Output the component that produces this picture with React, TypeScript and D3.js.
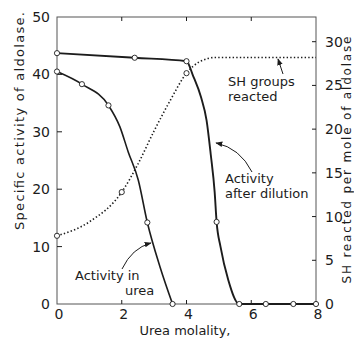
import * as d3 from "d3";
import React, { useEffect, useRef } from "react";

// urea molality ticks and the two y scales
const xTicks = [0, 2, 4, 6, 8];
const leftTicks = [0, 10, 20, 30, 40, 50];
const rightTicks = [0, 5, 10, 15, 20, 25, 30];

// activity after dilution (left axis)
const dilutionCurve: [number, number][] = [
  [0, 43.7], [2.4, 42.9], [4, 42.3], [4.2, 39.8], [4.45, 36], [4.62, 32],
  [4.75, 26], [4.87, 19.5], [4.93, 14.3], [5.05, 10], [5.29, 4.2], [5.63, 0],
  [6.45, 0], [7.3, 0], [8, 0],
];
const dilutionPoints: [number, number][] = [
  [0, 43.7], [2.4, 42.9], [4, 42.3], [4.93, 14.3], [5.63, 0], [6.45, 0], [7.3, 0], [8, 0],
];

// activity in urea (left axis)
const ureaCurve: [number, number][] = [
  [0, 40.5], [0.77, 38.3], [1.59, 34.6], [1.94, 30.9], [2.2, 26.5],
  [2.51, 21.6], [2.79, 14.2], [3.18, 6.5], [3.57, 0],
];
const ureaPoints: [number, number][] = [
  [0, 40.5], [0.77, 38.3], [1.59, 34.6], [2.79, 14.2], [3.57, 0],
];

// SH groups reacted per mole (right axis)
const shCurve: [number, number][] = [
  [0, 7.8], [1, 9.4], [2, 12.8], [2.5, 16], [3, 19.8], [3.5, 23.3],
  [4, 26.4], [4.4, 27.7], [4.9, 28.2], [8, 28.2],
];
const shPoints: [number, number][] = [[0, 7.8], [2, 12.8], [4, 26.4]];

const App = () => {
  const svgRef = useRef<SVGSVGElement>(null);

  useEffect(() => {
    const svg = d3.select(svgRef.current);
    svg.selectAll("*").remove();

    const left = 57, right = 316, top = 17, bottom = 304;
    const ink = "#1c1c1c";
    const font = "'DejaVu Sans', sans-serif";

    const x = d3.scaleLinear().domain([0, 8]).range([left, right]);
    const yL = d3.scaleLinear().domain([0, 50]).range([bottom, top]);
    const yR = d3.scaleLinear().domain([0, 30]).range([bottom, 41.7]);

    svg.append("defs")
      .append("marker")
      .attr("id", "head")
      .attr("viewBox", "0 0 10 10")
      .attr("refX", 9)
      .attr("refY", 5)
      .attr("markerWidth", 7)
      .attr("markerHeight", 7)
      .attr("markerUnits", "userSpaceOnUse")
      .attr("orient", "auto")
      .append("path")
      .attr("d", "M0,1 L10,5 L0,9 Z")
      .attr("fill", ink);

    // frame
    svg.append("rect")
      .attr("x", left)
      .attr("y", top)
      .attr("width", right - left)
      .attr("height", bottom - top)
      .attr("fill", "none")
      .attr("stroke", "#555")
      .attr("stroke-width", 1);

    // ticks
    const g = svg.append("g").attr("stroke", ink).attr("stroke-width", 1);
    leftTicks.filter((t) => t > 0 && t < 50).forEach((t) => {
      g.append("line").attr("x1", left).attr("x2", left + 5).attr("y1", yL(t)).attr("y2", yL(t));
    });
    rightTicks.filter((t) => t > 0).forEach((t) => {
      g.append("line").attr("x1", right - 4).attr("x2", right).attr("y1", yR(t)).attr("y2", yR(t));
    });
    xTicks.filter((t) => t > 0 && t < 8).forEach((t) => {
      g.append("line").attr("x1", x(t)).attr("x2", x(t)).attr("y1", bottom).attr("y2", bottom - 4);
      g.append("line").attr("x1", x(t)).attr("x2", x(t)).attr("y1", top).attr("y2", top + 4);
    });

    const label = (tx: number, ty: number, s: string, anchor = "start", size = 13) =>
      svg.append("text")
        .attr("x", tx)
        .attr("y", ty)
        .attr("text-anchor", anchor)
        .attr("font-family", font)
        .attr("font-size", size)
        .attr("fill", ink)
        .text(s);

    leftTicks.forEach((t) => label(50, yL(t) + 5, String(t), "end", 14));
    rightTicks.forEach((t) => label(325, yR(t) + 5, String(t), "start", 14));
    xTicks.forEach((t) => label(x(t) + 2, 319, String(t), "middle", 14));

    label(185, 335, "Urea molality,", "middle", 13);

    svg.append("text")
      .attr("transform", "translate(24,121) rotate(-90)")
      .attr("text-anchor", "middle")
      .attr("font-family", font)
      .attr("font-size", 13)
      .attr("fill", ink)
      .attr("textLength", 218)
      .attr("lengthAdjust", "spacing")
      .text("Specific activity of aldolase.");

    svg.append("text")
      .attr("transform", "translate(351,160) rotate(-90)")
      .attr("text-anchor", "middle")
      .attr("font-family", font)
      .attr("font-size", 12)
      .attr("fill", ink)
      .attr("textLength", 247)
      .attr("lengthAdjust", "spacing")
      .text("SH reacted per mole of aldolase");

    // curves
    const lineL = d3.line<[number, number]>()
      .x((d) => x(d[0]))
      .y((d) => yL(d[1]))
      .curve(d3.curveMonotoneX);
    const lineR = d3.line<[number, number]>()
      .x((d) => x(d[0]))
      .y((d) => yR(d[1]))
      .curve(d3.curveMonotoneX);

    svg.append("path")
      .datum(shCurve)
      .attr("fill", "none")
      .attr("stroke", ink)
      .attr("stroke-width", 1.6)
      .attr("stroke-dasharray", "1.4,2.2")
      .attr("d", lineR);

    svg.append("path")
      .datum(ureaCurve)
      .attr("fill", "none")
      .attr("stroke", ink)
      .attr("stroke-width", 1.6)
      .attr("d", lineL);

    svg.append("path")
      .datum(dilutionCurve)
      .attr("fill", "none")
      .attr("stroke", ink)
      .attr("stroke-width", 1.9)
      .attr("d", lineL);

    const dots = (pts: [number, number][], y: d3.ScaleLinear<number, number>) =>
      svg.append("g")
        .selectAll("circle")
        .data(pts)
        .enter()
        .append("circle")
        .attr("cx", (d) => x(d[0]))
        .attr("cy", (d) => y(d[1]))
        .attr("r", 2.6)
        .attr("fill", "#fff")
        .attr("stroke", ink)
        .attr("stroke-width", 0.9);

    dots(dilutionPoints, yL);
    dots(ureaPoints, yL);
    dots(shPoints, yR);

    // annotations
    label(228, 86, "SH  groups", "start", 13);
    label(228, 101, "reacted", "start", 13);
    label(225, 183, "Activity", "start", 13);
    label(225, 198, "after  dilution", "start", 13);
    label(75, 280, "Activity  in", "start", 13);
    label(125, 295, "urea", "start", 13);

    const arrow = (d: string) =>
      svg.append("path")
        .attr("d", d)
        .attr("fill", "none")
        .attr("stroke", ink)
        .attr("stroke-width", 1)
        .attr("marker-end", "url(#head)");

    arrow("M283,74 L278,59");
    arrow("M252,172 Q240,148 216,143");
    arrow("M122,269 Q132,248 151,243");
  }, []);

  return (
    <svg
      ref={svgRef}
      width="354"
      height="339"
      style={{ position: "absolute", left: 0, top: 0, background: "#fff" }}
    ></svg>
  );
};

export default App;
